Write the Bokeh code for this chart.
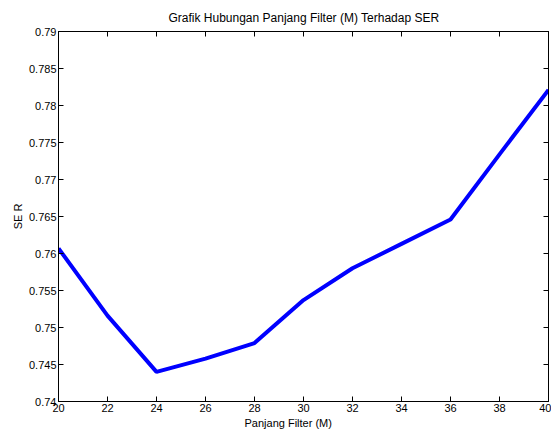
from bokeh.plotting import figure
from bokeh.models import LinearAxis, FixedTicker, CustomJSTickFormatter, Range1d, Title
from bokeh.embed import file_html
from bokeh.resources import INLINE

filter_len = [20, 22, 24, 26, 28, 30, 32, 34, 36, 38, 40]
ser = [0.7607, 0.7516, 0.7440, 0.7458, 0.7479, 0.7537, 0.7580, 0.7613, 0.7646, 0.7734, 0.7821]
x_ticks = [20, 22, 24, 26, 28, 30, 32, 34, 36, 38, 40]
y_ticks = [0.74, 0.745, 0.75, 0.755, 0.76, 0.765, 0.77, 0.775, 0.78, 0.785, 0.79]

FONT = "Liberation Sans"

p = figure(width=551, height=432, output_backend="svg", toolbar_location=None,
           x_range=Range1d(20, 40), y_range=Range1d(0.74, 0.79),
           y_axis_label="SE R",
           min_border_left=58, min_border_right=3, min_border_top=31, min_border_bottom=31)
p.title = Title(text="Grafik Hubungan Panjang Filter (M) Terhadap SER", align="left",
                text_font=FONT, text_font_size="12px", text_font_style="normal",
                text_color="#000000", offset=110, standoff=14)
p.add_layout(Title(text="Panjang Filter (M)", align="left", text_font=FONT,
                   text_font_size="11px", text_font_style="normal", text_color="#000000",
                   offset=186, standoff=0), "below")
p.grid.visible = False
p.outline_line_color = "#000000"
p.outline_line_width = 1
p.background_fill_color = "white"
p.border_fill_color = "white"

fmt = CustomJSTickFormatter(code="return String(parseFloat(tick.toFixed(4)));")

for ax in p.xaxis:
    ax.ticker = FixedTicker(ticks=x_ticks)
for ax in p.yaxis:
    ax.ticker = FixedTicker(ticks=y_ticks)
    ax.formatter = fmt

for ax in list(p.xaxis) + list(p.yaxis):
    ax.major_tick_in = 5
    ax.major_tick_out = 0
    ax.minor_tick_line_color = None
    ax.axis_line_color = "#000000"
    ax.major_tick_line_color = "#000000"
    ax.major_label_text_font = FONT
    ax.major_label_text_font_size = "11px"
    ax.major_label_text_color = "#000000"
    ax.axis_label_text_font = FONT
    ax.axis_label_text_font_size = "11px"
    ax.axis_label_text_font_style = "normal"
    ax.axis_label_text_color = "#000000"
    ax.major_label_standoff = 2
    ax.axis_label_standoff = 2

top = LinearAxis(ticker=FixedTicker(ticks=x_ticks), major_label_text_color=None,
                 major_tick_in=5, major_tick_out=0, minor_tick_line_color=None,
                 major_label_standoff=0)
right = LinearAxis(ticker=FixedTicker(ticks=y_ticks), major_label_text_color=None,
                   major_tick_in=5, major_tick_out=0, minor_tick_line_color=None,
                   major_label_standoff=0)
p.add_layout(top, "above")
p.add_layout(right, "right")

p.line(filter_len, ser, line_color="#0000ff", line_width=4)

open("out.html", "w").write(file_html(p, INLINE))
